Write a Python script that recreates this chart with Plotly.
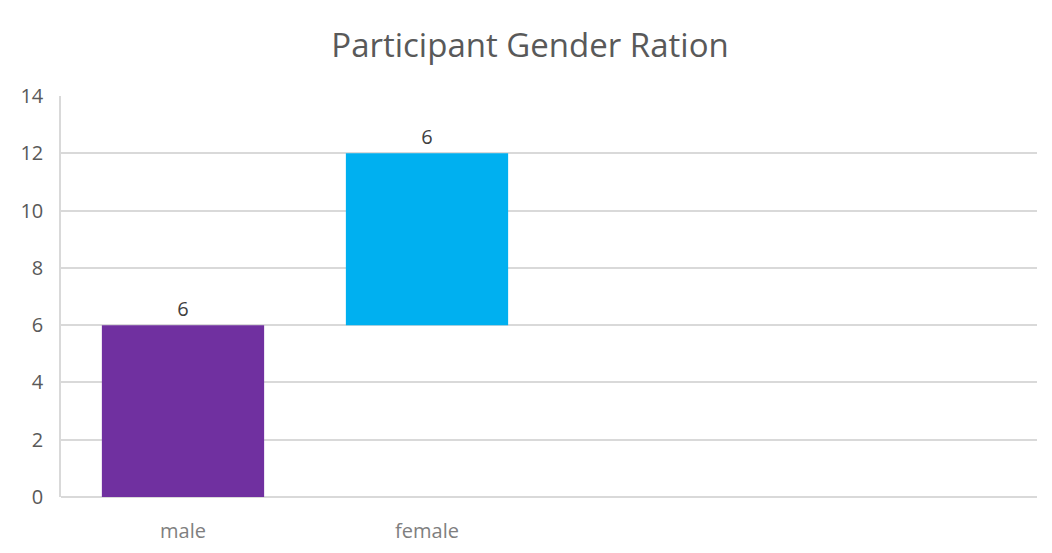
import numpy as np
import plotly.graph_objects as go

categories = ["male", "female", " ", "  "]
values = [6, 6]
bar_colors = ["#7030A0", "#00B0F0"]
y_ticks = [0, 2, 4, 6, 8, 10, 12, 14]

ends = np.cumsum(values)
bases = ends - np.array(values)

fig = go.Figure()
fig.add_trace(go.Bar(
    x=categories[:len(values)],
    y=values,
    base=bases,
    marker=dict(color=bar_colors, line=dict(width=0)),
    width=0.665,
    text=[str(v) for v in values],
    textposition="outside",
    textfont=dict(family="Open Sans, sans-serif", size=20, color="#404040"),
    cliponaxis=False,
    showlegend=False,
))

fig.update_layout(
    width=1044, height=545,
    paper_bgcolor="white", plot_bgcolor="white",
    margin=dict(l=53, r=15, t=88, b=56),
    title=dict(text="Participant Gender Ration", x=0.5, xanchor="center",
               y=0.932, yanchor="middle",
               font=dict(family="Open Sans, sans-serif", size=33, color="#595959")),
    xaxis=dict(type="category", categoryorder="array", categoryarray=categories,
               range=[-0.5, 3.5], showgrid=False, showline=False, zeroline=False,
               automargin=False, ticks="", ticklabelstandoff=20,
               tickfont=dict(family="Open Sans, sans-serif", size=20, color="#7f7f7f")),
    yaxis=dict(range=[0, 14], tickvals=y_ticks, showgrid=True, gridcolor="#d9d9d9",
               gridwidth=1.5, zeroline=True, zerolinecolor="#d9d9d9", zerolinewidth=1.5,
               showline=True, linecolor="#d9d9d9", linewidth=1.5, automargin=False,
               ticks="", ticklen=0, tickfont=dict(family="Open Sans, sans-serif", size=20, color="#595959"),
               ticklabelstandoff=12),
    bargap=0.335,
)

fig.write_html("out.html")
